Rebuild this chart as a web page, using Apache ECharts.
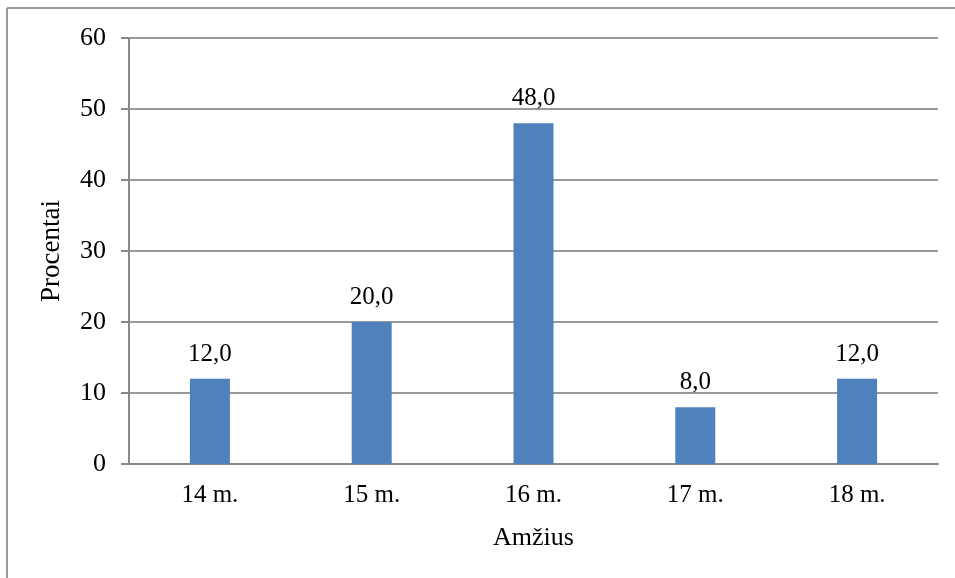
<!DOCTYPE html>
<html><head><meta charset="utf-8">
<script src="https://cdn.jsdelivr.net/npm/echarts@6/dist/echarts.min.js"></script>
<style>html,body{margin:0;padding:0;background:#fff}#c{width:955px;height:578px}</style>
</head><body><div id="c"></div>
<script>
var categories = ['14 m.', '15 m.', '16 m.', '17 m.', '18 m.'];
var values = [12.0, 20.0, 48.0, 8.0, 12.0];
var yTicks = [0, 10, 20, 30, 40, 50, 60];
var xName = 'Amžius';
var yName = 'Procentai';

var font = 'Liberation Serif';
var fs = 25;
var chart = echarts.init(document.getElementById('c'), null, {renderer: 'canvas'});
chart.setOption({
  animation: false,
  backgroundColor: '#fff',
  graphic: [
    {type: 'line', shape: {x1: 7, y1: 8, x2: 955, y2: 8}, style: {stroke: '#999', lineWidth: 2}},
    {type: 'line', shape: {x1: 7, y1: 8, x2: 7, y2: 578}, style: {stroke: '#999', lineWidth: 2}}
  ],
  grid: {left: 129, right: 17, top: 38, bottom: 114, containLabel: false},
  xAxis: {
    type: 'category', data: categories,
    name: xName, nameLocation: 'middle', nameGap: 61,
    nameTextStyle: {fontFamily: font, fontSize: 26, color: '#000'},
    axisLine: {lineStyle: {color: '#888', width: 2}},
    axisTick: {show: false},
    axisLabel: {fontFamily: font, fontSize: fs, color: '#000', margin: 19}
  },
  yAxis: {
    type: 'value', min: yTicks[0], max: yTicks[yTicks.length - 1], interval: 10,
    name: yName, nameLocation: 'middle', nameGap: 64,
    nameTextStyle: {fontFamily: font, fontSize: 27, color: '#000'},
    axisLine: {show: true, lineStyle: {color: '#888', width: 2}},
    axisTick: {show: true, length: 8, lineStyle: {color: '#888', width: 2}},
    splitLine: {lineStyle: {color: '#999', width: 2}},
    axisLabel: {fontFamily: font, fontSize: 26, color: '#000', margin: 23}
  },
  series: [{
    type: 'bar', data: values, barWidth: 40,
    itemStyle: {color: '#4F81BD'},
    label: {
      show: true, position: 'top', distance: 12,
      fontFamily: font, fontSize: fs, color: '#000',
      formatter: function (p) { return p.value.toFixed(1).replace('.', ','); }
    }
  }]
});
</script></body></html>
